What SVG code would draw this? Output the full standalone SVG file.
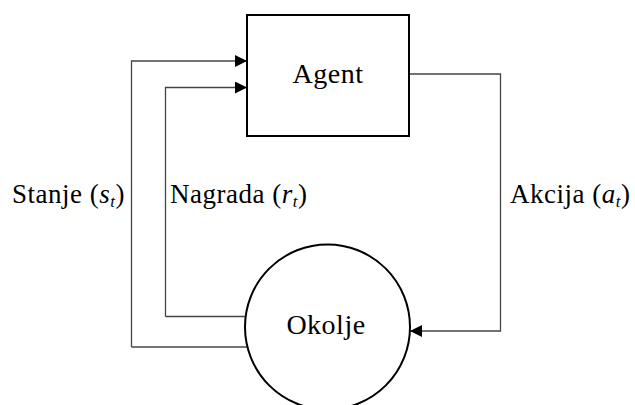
<svg xmlns="http://www.w3.org/2000/svg" width="635" height="405" viewBox="0 0 635 405">
<defs>
<style>
.lbl{font-family:"Liberation Serif","Times New Roman",serif;font-size:27px;letter-spacing:0.5px;fill:#000}
.node{font-family:"Liberation Serif","Times New Roman",serif;font-size:28px;letter-spacing:0.5px;fill:#000}
.conn{fill:none;stroke:#444;stroke-width:1.3}
</style>
<marker id="arr" markerWidth="12" markerHeight="12" refX="11" refY="6" orient="auto" markerUnits="userSpaceOnUse">
<path d="M0,0 L12,6 L0,12 Z" fill="#000"/>
</marker>
</defs>
<rect width="635" height="405" fill="#fff"/>
<g id="connectors">
<path class="conn" d="M131.5,347 L131.5,61 L246,61" marker-end="url(#arr)"/>
<path class="conn" d="M165.5,316.5 L165.5,87.5 L246,87.5" marker-end="url(#arr)"/>
<path class="conn" d="M131.5,347 L247,347"/>
<path class="conn" d="M165.5,316.5 L246,316.5"/>
<path class="conn" d="M409,74 L500.5,74 L500.5,331 L411,331" marker-end="url(#arr)"/>
</g>
<g id="agent">
<rect x="247" y="15" width="162" height="121" fill="#fff" stroke="#000" stroke-width="2"/>
<text class="node" x="328" y="83" text-anchor="middle">Agent</text>
</g>
<g id="okolje">
<circle cx="327.5" cy="327" r="82.5" fill="#fff" stroke="#000" stroke-width="2"/>
<text class="node" x="326" y="334" text-anchor="middle">Okolje</text>
</g>
<g id="labels">
<text class="lbl" x="12" y="203">Stanje (<tspan font-style="italic">s</tspan><tspan font-style="italic" font-size="17" dy="4">t</tspan><tspan dy="-4">)</tspan></text>
<text class="lbl" x="170" y="203">Nagrada (<tspan font-style="italic">r</tspan><tspan font-style="italic" font-size="17" dy="4">t</tspan><tspan dy="-4">)</tspan></text>
<text class="lbl" x="510" y="203">Akcija (<tspan font-style="italic">a</tspan><tspan font-style="italic" font-size="17" dy="4">t</tspan><tspan dy="-4">)</tspan></text>
</g>
</svg>
